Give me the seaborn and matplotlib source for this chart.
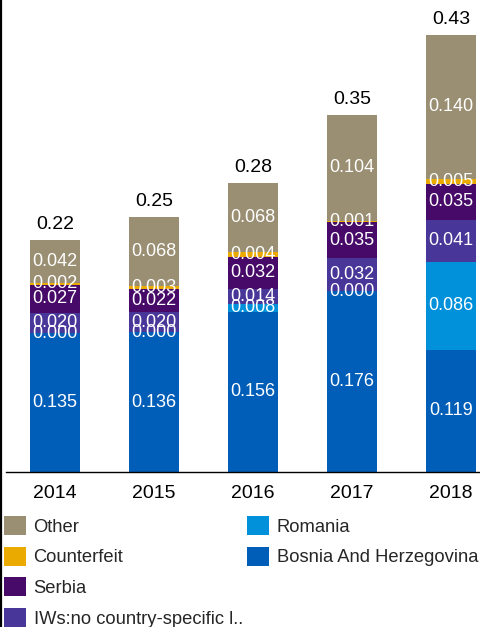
import matplotlib
matplotlib.use("Agg")
import matplotlib.pyplot as plt
from matplotlib.lines import Line2D
from matplotlib.patches import Patch
import seaborn as sns
import numpy as np

years = ["2014", "2015", "2016", "2017", "2018"]
bosnia = [0.135, 0.136, 0.156, 0.176, 0.119]
romania = [0.0004, 0.0, 0.008, 0.0004, 0.086]
iws = [0.020, 0.020, 0.014, 0.032, 0.041]
serbia = [0.027, 0.022, 0.032, 0.035, 0.035]
counterfeit = [0.002, 0.003, 0.004, 0.001, 0.005]
other = [0.042, 0.068, 0.068, 0.104, 0.140]
totals = [0.22, 0.25, 0.28, 0.35, 0.43]

series_names = ["Bosnia And Herzegovina", "Romania", "IWs:no country-specific l..",
                "Serbia", "Counterfeit", "Other"]
series_vals = [bosnia, romania, iws, serbia, counterfeit, other]
colors = ["#005EB8", "#0091DA", "#483698", "#470A68", "#EAAA00", "#9A8F73"]

sns.set_style("white")
plt.rcParams["font.family"] = ["Liberation Sans", "DejaVu Sans"]

W, H = 481, 627
fig = plt.figure(figsize=(W / 100, H / 100), dpi=100)
ax = fig.add_axes([5.5 / W, 155 / H, 475.5 / W, 472 / H])

vals = np.array(series_vals)
cum = np.cumsum(vals, axis=0)
# draw cumulative bars from top to bottom so each lower segment overlays
for i in range(len(series_names) - 1, -1, -1):
    sns.barplot(x=years, y=cum[i], color=colors[i], saturation=1, width=0.515,
                ax=ax, linewidth=0)

# segment labels
for i in range(len(series_names)):
    for j in range(len(years)):
        bottom = cum[i][j] - vals[i][j]
        ax.text(j, bottom + vals[i][j] / 2, f"{series_vals[i][j]:.3f}",
                ha="center", va="center", color="white", fontsize=13)

# totals
for j in range(len(years)):
    ax.annotate(f"{totals[j]:.2f}", (j, cum[-1][j]), xytext=(0, 5),
                textcoords="offset points", ha="center", va="bottom",
                fontsize=14, color="black")

ax.set_xlabel("")
ax.set_ylabel("")
ax.set_yticks([])
for s in ["left", "right", "top"]:
    ax.spines[s].set_visible(False)
ax.spines["bottom"].set_color("black")
ax.spines["bottom"].set_linewidth(1.0)
ax.tick_params(axis="x", which="major", length=0, pad=9, labelsize=14, colors="black")
ax.set_xticks(np.arange(-0.5, 4.6, 1.0), minor=True)
ax.tick_params(axis="x", which="minor", length=7, color="#e0e0e0", width=1)
ax.set_xlim(-0.5, 4.303)
ax.set_ylim(0, 0.460)

# left edge line
fig.add_artist(Line2D([0.002, 0.002], [0, 1], transform=fig.transFigure,
                      color="black", linewidth=1.6))

# legends
order1 = [5, 4, 3, 2]
order2 = [1, 0]
common = dict(frameon=False, fontsize=13.2, handlelength=1.22, handleheight=1.22,
              handletextpad=0.39, labelspacing=0.6, borderpad=0, borderaxespad=0,
              loc="upper left")
h1 = [Patch(facecolor=colors[i], edgecolor="none") for i in order1]
l1 = [series_names[i] for i in order1]
h2 = [Patch(facecolor=colors[i], edgecolor="none") for i in order2]
l2 = [series_names[i] for i in order2]
leg1 = fig.legend(h1, l1, bbox_to_anchor=(4 / W, 1 - 516 / H), **common)
leg2 = fig.legend(h2, l2, bbox_to_anchor=(247 / W, 1 - 516 / H), **common)

fig.savefig("out.png", dpi=100)
